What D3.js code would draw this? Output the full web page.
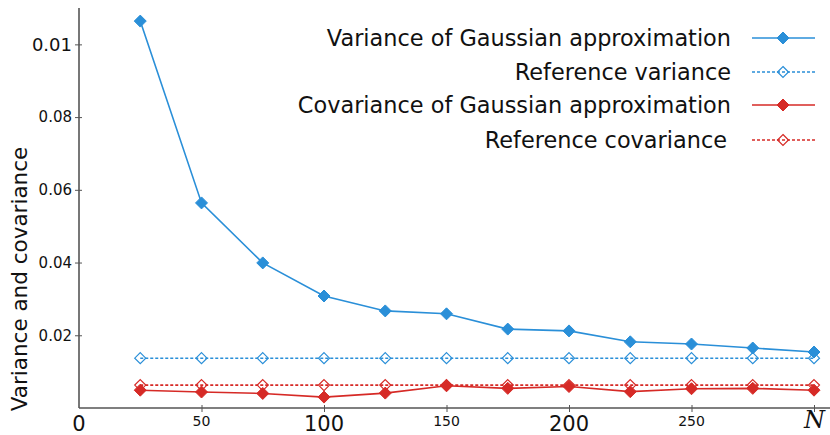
<!DOCTYPE html>
<html><head><meta charset="utf-8">
<script src="https://cdn.jsdelivr.net/npm/d3@7"></script>
<style>body{margin:0;background:#fff}svg{display:block}</style>
</head><body>
<script>
const N = [25,50,75,100,125,150,175,200,225,250,275,300];
const varGauss = [0.1064,0.0564,0.0399,0.0308,0.0267,0.0259,0.0217,0.0212,0.0182,0.0176,0.0165,0.0154];
const varRef = [0.0137,0.0137,0.0137,0.0137,0.0137,0.0137,0.0137,0.0137,0.0137,0.0137,0.0137,0.0137];
const covGauss = [0.0049,0.0044,0.0040,0.0030,0.0041,0.0061,0.0054,0.0059,0.0045,0.0053,0.0054,0.0049];
const covRef = [0.0063,0.0063,0.0063,0.0063,0.0063,0.0063,0.0063,0.0063,0.0063,0.0063,0.0063,0.0063];
const xTicks = [0,50,100,150,200,250,300];
const xTickLabels = ["0","50","100","150","200","250",""];
const yTicks = [0.02,0.04,0.06,0.08,0.1];
const yTickLabels = ["0.02","0.04","0.06","0.08","0.01"];
const seriesNames = ["Variance of Gaussian approximation","Reference variance","Covariance of Gaussian approximation","Reference covariance"];

const W=830,H=435;
const svg=d3.select("body").append("svg").attr("width",W).attr("height",H);
const x=d3.scaleLinear().domain([0,300]).range([79,814]);
const y=d3.scaleLinear().domain([0,0.11]).range([408,8]);
const blue="#2a8fd8", red="#d62a26", axisCol="#555";
const font="DejaVu Sans, sans-serif";

// axes
const xa=svg.append("g").attr("transform","translate(0,408)")
  .call(d3.axisBottom(x).tickValues(xTicks.slice(1)).tickSizeInner(4).tickSizeOuter(0).tickFormat(""));
xa.select(".domain").remove();
xa.selectAll(".tick line").attr("y1",-3).attr("y2",4).attr("stroke",axisCol);
const ya=svg.append("g").attr("transform","translate(79,0)")
  .call(d3.axisLeft(y).tickValues(yTicks).tickSizeInner(4).tickSizeOuter(0).tickFormat(""));
ya.select(".domain").remove();
ya.selectAll(".tick line").attr("x1",3).attr("x2",-4).attr("stroke",axisCol);
svg.append("line").attr("x1",79).attr("x2",830).attr("y1",408).attr("y2",408).attr("stroke",axisCol).attr("stroke-width",1.6);
svg.append("line").attr("x1",79).attr("x2",79).attr("y1",8).attr("y2",408).attr("stroke",axisCol).attr("stroke-width",1.6);

// tick labels
xTicks.forEach((t,i)=>{
  if(!xTickLabels[i]) return;
  const big = (i%2===0);
  svg.append("text").attr("x",x(t)).attr("y",big?431:426).attr("text-anchor","middle")
    .attr("font-family",font).attr("font-size",big?21:14).attr("fill","#111").text(xTickLabels[i]);
});
yTicks.forEach((t,i)=>{
  const big = (i===yTicks.length-1);
  svg.append("text").attr("x",72).attr("y",y(t)).attr("dy","0.36em").attr("text-anchor","end")
    .attr("font-family",font).attr("font-size",big?18:15).attr("fill","#111").text(yTickLabels[i]);
});
svg.append("text").attr("transform","translate(27,279) rotate(-90)").attr("text-anchor","middle")
  .attr("font-family",font).attr("font-size",21.5).attr("fill","#111").text("Variance and covariance");
svg.append("text").attr("x",804).attr("y",428).attr("font-family","DejaVu Serif, serif").attr("font-style","italic")
  .attr("font-size",24).attr("fill","#111").text("N");

// series
const series=[
  {v:varGauss,c:blue,dash:null,fill:true},
  {v:varRef,c:blue,dash:"3,2",fill:false},
  {v:covGauss,c:red,dash:null,fill:true},
  {v:covRef,c:red,dash:"3,2",fill:false}
];
const line=d3.line().x(d=>x(d[0])).y(d=>y(d[1]));
const diamond=(cx,cy,r)=>`M${cx},${cy-r}L${cx+r},${cy}L${cx},${cy+r}L${cx-r},${cy}Z`;
function drawMarker(g,cx,cy,s){
  if(s.fill) g.append("path").attr("d",diamond(cx,cy,6)).attr("fill",s.c).attr("stroke",s.c).attr("stroke-width",1);
  else g.append("path").attr("d",diamond(cx,cy,5.5)).attr("fill","none").attr("stroke",s.c).attr("stroke-width",1.2);
}
const plot=svg.append("g");
[1,3,0,2].forEach(k=>{
  const s=series[k];
  const pts=N.map((n,i)=>[n,s.v[i]]);
  plot.append("path").attr("d",line(pts)).attr("fill","none").attr("stroke",s.c)
    .attr("stroke-width",1.6).attr("stroke-dasharray",s.dash);
  pts.forEach(p=>drawMarker(plot,x(p[0]),y(p[1]),s));
});

// legend
const ly=[38,72,105,140];
const lx=[731,731,731,727];
series.forEach((s,i)=>{
  svg.append("text").attr("x",lx[i]).attr("y",ly[i]).attr("dy","0.36em").attr("text-anchor","end")
    .attr("font-family",font).attr("font-size",22.4).attr("fill","#111").text(seriesNames[i]);
  svg.append("line").attr("x1",752).attr("x2",815).attr("y1",ly[i]).attr("y2",ly[i])
    .attr("stroke",s.c).attr("stroke-width",1.6).attr("stroke-dasharray",s.dash);
  drawMarker(svg,783,ly[i],s);
});
</script>
</body></html>
